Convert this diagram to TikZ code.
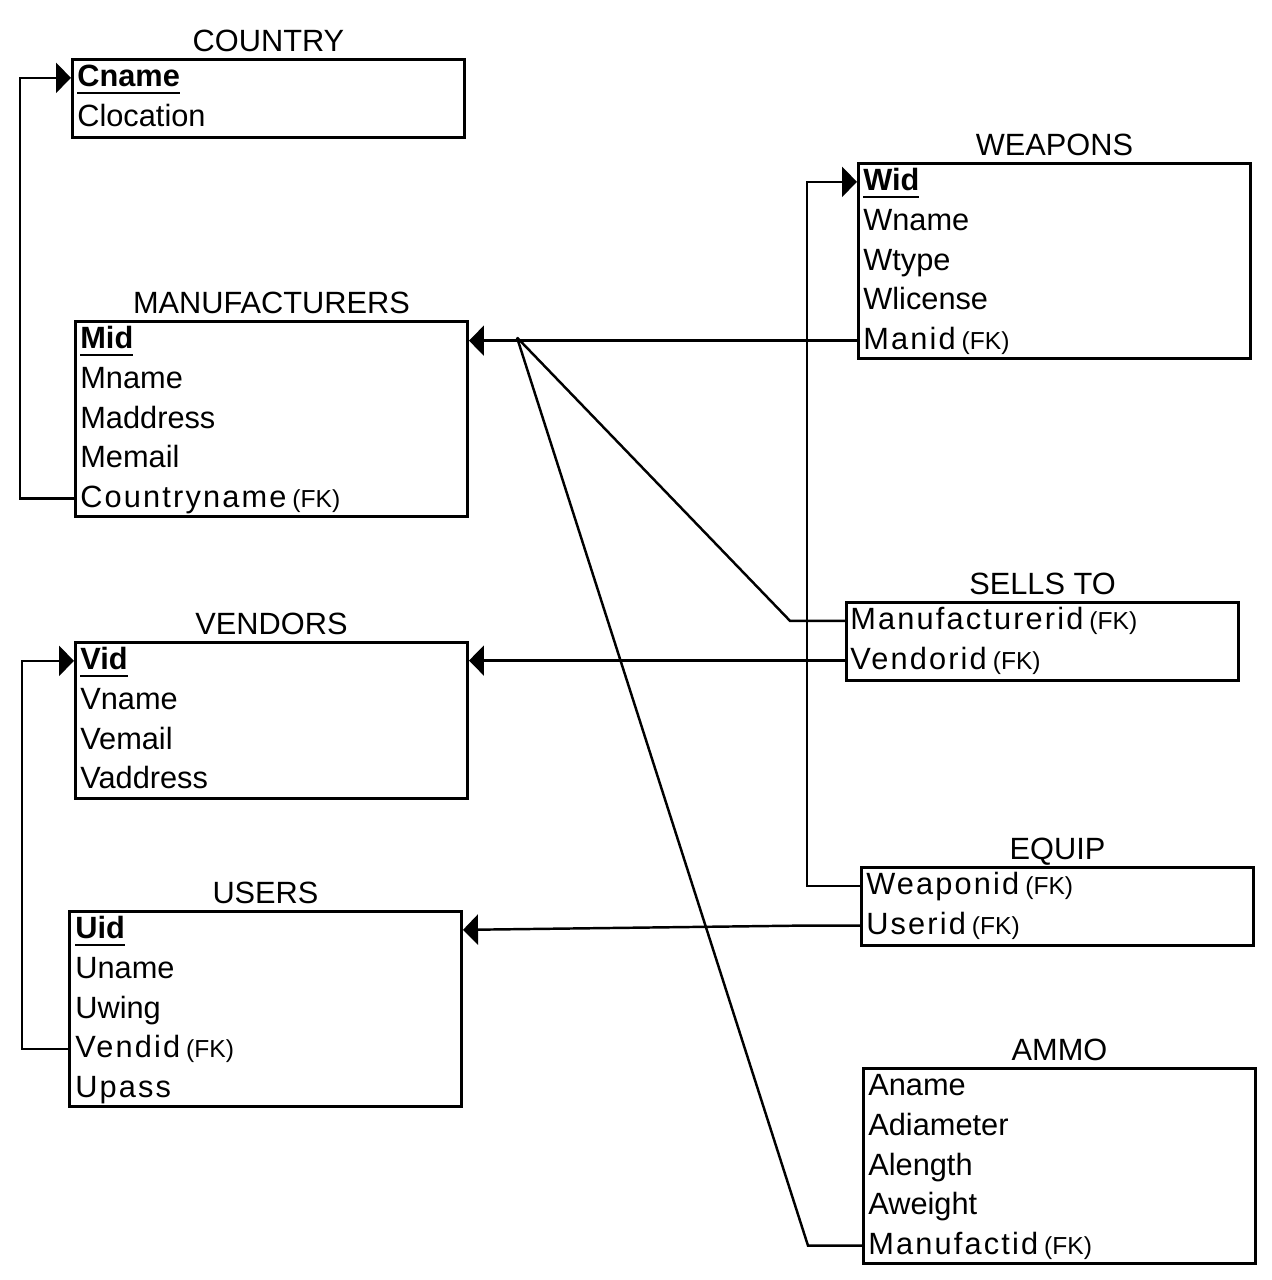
\documentclass[tikz,border=0pt]{standalone}
\usepackage{fontspec}
\setmainfont{Liberation Sans}
\newfontfamily\spaced[LetterSpace=7]{Liberation Sans}
\usetikzlibrary{positioning,arrows.meta}

\newcommand{\keyfield}[1]{\setbox0\hbox{\textbf{#1}}\rlap{\rule[-0.15cm]{\wd0}{0.05cm}}\box0}
\newcommand{\fk}{\hspace{0.12cm}{\fontsize{14}{14}\selectfont(FK)}}

\tikzset{
  table/.style={draw, line width=1.7pt, anchor=north west, minimum width=7.84cm, inner sep=0pt},
  title/.style={inner sep=0pt, text depth=0pt},
  field/.style={anchor=north west, minimum height=0.78cm, inner xsep=0pt, inner ysep=0pt, text height=0.46cm, text depth=0.1cm},
  link/.style={line width=1.4pt, -{Triangle[length=0.3cm,width=0.6cm]}},
  plain/.style={line width=1.4pt}
}

\begin{document}
\begin{tikzpicture}[every node/.style={font=\fontsize{17.5}{20}\selectfont}]
\useasboundingbox (0,0) rectangle (25.44,-25.6);

% tables on the left
\node[table, minimum height=1.56cm] (country) at (1.42,-1.16) {};
\node[title, above=0.13cm of country] (countrytitle) {COUNTRY};
\node[field, below right=0cm and 0.12cm of country.north west] (cname) {\keyfield{Cname}};
\node[field] (clocation) at (cname.south west) {Clocation};

\node[table, minimum height=3.9cm] (mfr) at (1.48,-6.40) {};
\node[title, above=0.13cm of mfr] (mfrtitle) {MANUFACTURERS};
\node[field, below right=0cm and 0.12cm of mfr.north west] (mid) {\keyfield{Mid}};
\node[field] (mname) at (mid.south west) {Mname};
\node[field] (maddress) at (mname.south west) {Maddress};
\node[field] (memail) at (maddress.south west) {Memail};
\node[field] (countryname) at (memail.south west) {{\spaced Countryname}\fk};

\node[table, minimum height=3.12cm] (vendors) at (1.48,-12.82) {};
\node[title, above=0.13cm of vendors] (vendorstitle) {VENDORS};
\node[field, below right=0cm and 0.12cm of vendors.north west] (vid) {\keyfield{Vid}};
\node[field] (vname) at (vid.south west) {Vname};
\node[field] (vemail) at (vname.south west) {Vemail};
\node[field] (vaddress) at (vemail.south west) {Vaddress};

\node[table, minimum height=3.9cm] (users) at (1.36,-18.20) {};
\node[title, above=0.13cm of users] (userstitle) {USERS};
\node[field, below right=0cm and 0.14cm of users.north west] (uid) {\keyfield{Uid}};
\node[field] (uname) at (uid.south west) {Uname};
\node[field] (uwing) at (uname.south west) {Uwing};
\node[field] (vendid) at (uwing.south west) {{\spaced Vendid}\fk};
\node[field] (upass) at (vendid.south west) {{\spaced Upass}};

% tables on the right
\node[table, minimum height=3.9cm] (weapons) at (17.14,-3.24) {};
\node[title, above=0.13cm of weapons] (weaponstitle) {WEAPONS};
\node[field, below right=0cm and 0.12cm of weapons.north west] (wid) {\keyfield{Wid}};
\node[field] (wname) at (wid.south west) {Wname};
\node[field] (wtype) at (wname.south west) {Wtype};
\node[field] (wlicense) at (wtype.south west) {Wlicense};
\node[field] (manid) at (wlicense.south west) {{\spaced Manid}\fk};

\node[table, minimum height=1.56cm] (sells) at (16.90,-12.02) {};
\node[title, above=0.13cm of sells] (sellstitle) {SELLS TO};
\node[field, below right=0cm and 0.1cm of sells.north west] (mfrid) {{\spaced Manufacturerid}\fk};
\node[field] (vendorid) at (mfrid.south west) {{\spaced Vendorid}\fk};

\node[table, minimum height=1.56cm] (equip) at (17.20,-17.32) {};
\node[title, above=0.13cm of equip] (equiptitle) {EQUIP};
\node[field, below right=0cm and 0.12cm of equip.north west] (weaponid) {{\spaced Weaponid}\fk};
\node[field] (userid) at (weaponid.south west) {{\spaced Userid}\fk};

\node[table, minimum height=3.9cm] (ammo) at (17.24,-21.34) {};
\node[title, above=0.13cm of ammo] (ammotitle) {AMMO};
\node[field, below right=0cm and 0.12cm of ammo.north west] (aname) {Aname};
\node[field] (adiameter) at (aname.south west) {Adiameter};
\node[field] (alength) at (adiameter.south west) {Alength};
\node[field] (aweight) at (alength.south west) {Aweight};
\node[field] (manufactid) at (aweight.south west) {{\spaced Manufactid}\fk};

% foreign keys
\coordinate (fork) at (10.34,-6.75);
\draw[link] (countryname -| mfr.west) -- ++(-1.08,0) |- (cname -| country.west);
\draw[link] (manid -| weapons.west) -- (manid -| mfr.east);
\draw[plain] (mfrid -| sells.west) -- ++(-1.1,0) -- (fork);
\draw[link] (vendorid -| sells.west) -- (vendorid -| vendors.east);
\draw[link] (weaponid -| equip.west) -- ++(-1.06,0) |- (wid -| weapons.west);
\draw[link] (userid -| equip.west) -- ++(-1.1,0) -- (uid -| users.east);
\draw[plain] (manufactid -| ammo.west) -- ++(-1.08,0) -- (fork);
\draw[link] (vendid -| users.west) -- ++(-0.92,0) |- (vid -| vendors.west);
\end{tikzpicture}
\end{document}
